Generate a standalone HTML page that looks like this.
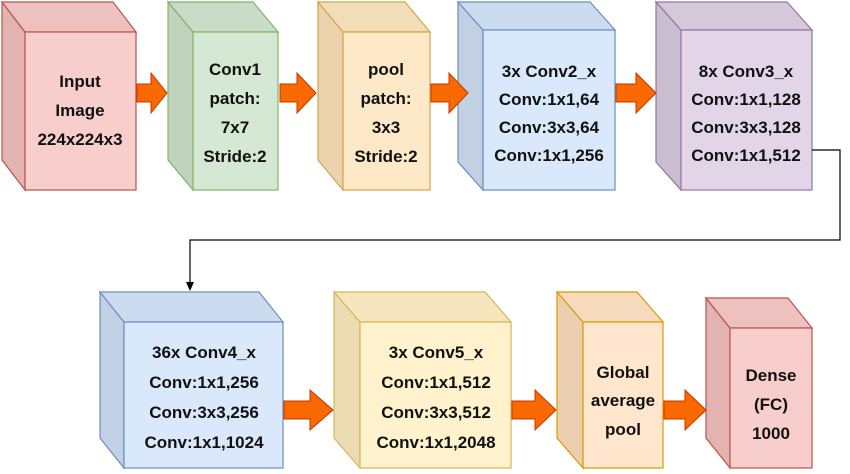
<!DOCTYPE html>
<html><head><meta charset="utf-8"><style>
html,body{margin:0;padding:0;background:#fff;}
svg{display:block}
text{font-family:"Liberation Sans",Arial,sans-serif;font-weight:bold;font-size:17px;fill:#111;text-anchor:middle}
</style></head><body>
<svg width="850" height="474" viewBox="0 0 850 474" xmlns="http://www.w3.org/2000/svg">
<g stroke-width="1.2">
<!-- Box1 -->
<g stroke="#b85450"><polygon points="2,2 25,32 25,190 2,160" fill="#e3b3b1"/><polygon points="2,2 113,2 136,32 25,32" fill="#eec1bf"/><rect x="25" y="32" width="111" height="158" fill="#f8cecc"/></g>
<!-- Box2 -->
<g stroke="#82b366"><polygon points="168,2 193,32 193,190 168,160" fill="#bfd3bd"/><polygon points="168,2 253,2 278,32 193,32" fill="#c9dcc7"/><rect x="193" y="32" width="85" height="158" fill="#d5e8d4"/></g>
<!-- Box3 -->
<g stroke="#d6a44a"><polygon points="318,2 343,32 343,190 318,160" fill="#ead3ad"/><polygon points="318,2 405,2 430,32 343,32" fill="#f3ddb8"/><rect x="343" y="32" width="87" height="158" fill="#fde9c8"/></g>
<!-- Box4 -->
<g stroke="#6c8ebf"><polygon points="458,2 483,30 483,190 458,162" fill="#c2d0e4"/><polygon points="458,2 590,2 615,30 483,30" fill="#ccdcf0"/><rect x="483" y="30" width="132" height="160" fill="#dae8fc"/></g>
<!-- Box5 -->
<g stroke="#9673a6"><polygon points="656,2 681,30 681,190 656,162" fill="#c9bdd0"/><polygon points="656,2 787,2 812,30 681,30" fill="#d4c8da"/><rect x="681" y="30" width="131" height="160" fill="#e1d5e7"/></g>
<!-- Box6 -->
<g stroke="#6c8ebf"><polygon points="100,292 124,322 124,468 100,438" fill="#c2d0e4"/><polygon points="100,292 259,292 283,322 124,322" fill="#ccdcf0"/><rect x="124" y="322" width="159" height="146" fill="#dae8fc"/></g>
<!-- Box7 -->
<g stroke="#d6b656"><polygon points="334,292 360,322 360,468 334,438" fill="#ebdcb3"/><polygon points="334,292 485,292 511,322 360,322" fill="#f5e6bd"/><rect x="360" y="322" width="151" height="146" fill="#fff2cc"/></g>
<!-- Box8 -->
<g stroke="#d79b00"><polygon points="557,292 583,322 583,468 557,438" fill="#ebcfb0"/><polygon points="557,292 637,292 663,322 583,322" fill="#f5dabd"/><rect x="583" y="322" width="80" height="146" fill="#ffe6cc"/></g>
<!-- Box9 -->
<g stroke="#b85450"><polygon points="706,298 730,328 730,468 706,438" fill="#e3b3b1"/><polygon points="706,298 788,298 812,328 730,328" fill="#eec1bf"/><rect x="730" y="328" width="82" height="140" fill="#f8cecc"/></g>
</g>
<!-- orange arrows -->
<g fill="#fa6800" stroke="#c73500" stroke-width="1">
<polygon points="137,84 151,84 151,73 167,93 151,113 151,102 137,102"/>
<polygon points="280,84 297,84 297,73 316,93 297,113 297,102 280,102"/>
<polygon points="431,84 449,84 449,73 468,93 449,113 449,102 431,102"/>
<polygon points="616,84 636,84 636,73 656,93 636,113 636,102 616,102"/>
<polygon points="284,401 310,401 310,390 333,410 310,430 310,419 284,419"/>
<polygon points="512,401 535,401 535,390 556,410 535,430 535,419 512,419"/>
<polygon points="664,401 685,401 685,390 706,410 685,430 685,419 664,419"/>
</g>
<!-- connector -->
<polyline points="812,150 840,150 840,240 190,240 190,284" fill="none" stroke="#000" stroke-width="1.2"/>
<polygon points="186,282 194,282 190,291" fill="#000"/>
<!-- text -->
<text x="80" y="87">Input</text><text x="80" y="116">Image</text><text x="80" y="145">224x224x3</text>
<text x="235" y="75">Conv1</text><text x="235" y="104">patch:</text><text x="235" y="133">7x7</text><text x="235" y="162">Stride:2</text>
<text x="386" y="75">pool</text><text x="386" y="104">patch:</text><text x="386" y="133">3x3</text><text x="386" y="162">Stride:2</text>
<text x="549" y="77">3x Conv2_x</text><text x="549" y="105">Conv:1x1,64</text><text x="549" y="133">Conv:3x3,64</text><text x="549" y="161">Conv:1x1,256</text>
<text x="746" y="77">8x Conv3_x</text><text x="746" y="105">Conv:1x1,128</text><text x="746" y="133">Conv:3x3,128</text><text x="746" y="161">Conv:1x1,512</text>
<text x="204" y="358">36x Conv4_x</text><text x="204" y="388">Conv:1x1,256</text><text x="204" y="418">Conv:3x3,256</text><text x="204" y="448">Conv:1x1,1024</text>
<text x="436" y="358">3x Conv5_x</text><text x="436" y="388">Conv:1x1,512</text><text x="436" y="418">Conv:3x3,512</text><text x="436" y="448">Conv:1x1,2048</text>
<text x="623" y="378">Global</text><text x="623" y="406">average</text><text x="623" y="435">pool</text>
<text x="771" y="381">Dense</text><text x="771" y="410">(FC)</text><text x="771" y="439">1000</text>
</svg>
</body></html>
